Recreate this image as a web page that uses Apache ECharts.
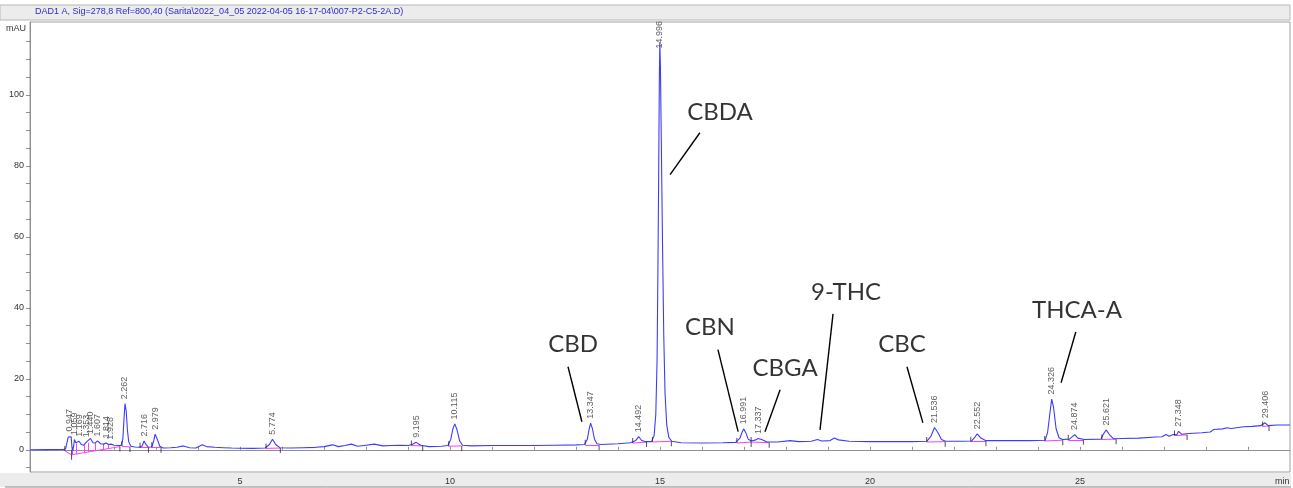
<!DOCTYPE html>
<html>
<head>
<meta charset="utf-8">
<script src="https://cdn.jsdelivr.net/npm/echarts@6/dist/echarts.min.js"></script>
<style>
  html, body { margin: 0; padding: 0; background: #ffffff; }
  #chart { width: 1293px; height: 488px; }
</style>
</head>
<body>
<div id="chart"></div>
<script>
// Chromatogram trace (DAD1 A, 278 nm), retention time in minutes vs absorbance in mAU.
// Peak apexes live in peakRT / peakHeight and are merged into the trace below.
const traceTime = [
  0.00, 0.40, 0.80, 0.85, 0.88, 0.91, 0.98, 1.00, 1.02, 1.04, 1.09, 1.12, 1.22, 1.28, 1.39,
  1.50, 1.55, 1.68, 1.75, 1.87, 2.00, 2.10, 2.17, 2.21, 2.24, 2.29, 2.32, 2.35, 2.40, 2.50,
  2.60, 2.67, 2.76, 2.82, 2.90, 2.95, 3.03, 3.09, 3.17, 3.35, 3.50, 3.65, 3.80, 3.95, 4.10,
  4.20, 4.40, 4.60, 4.80, 5.00, 5.30, 5.60, 5.70, 5.85, 5.95, 6.20, 6.50, 6.80, 7.00, 7.20,
  7.35, 7.50, 7.65, 7.80, 8.00, 8.20, 8.40, 8.60, 8.80, 9.00, 9.10, 9.30, 9.50, 9.80, 9.95,
  10.02, 10.07, 10.17, 10.23, 10.30, 10.50, 11.00, 11.50, 12.00, 12.50, 13.00, 13.20, 13.27, 13.31, 13.39,
  13.44, 13.50, 13.60, 14.00, 14.30, 14.42, 14.56, 14.65, 14.80, 14.86, 14.90, 14.93, 14.95, 14.97, 14.985,
  15.01, 15.03, 15.06, 15.09, 15.12, 15.16, 15.21, 15.28, 15.50, 16.00, 16.50, 16.80, 16.90, 16.95, 17.04,
  17.10, 17.18, 17.28, 17.42, 17.55, 17.80, 18.10, 18.30, 18.60, 18.75, 18.85, 19.05, 19.15, 19.25, 19.50,
  20.00, 20.50, 21.00, 21.35, 21.45, 21.62, 21.70, 21.80, 22.20, 22.42, 22.50, 22.64, 22.75, 23.20, 23.80,
  24.17, 24.23, 24.28, 24.37, 24.43, 24.50, 24.58, 24.75, 24.95, 25.10, 25.50, 25.56, 25.70, 25.80, 26.00,
  26.40, 26.80, 26.95, 27.05, 27.12, 27.22, 27.30, 27.42, 27.60, 27.90, 28.10, 28.18, 28.40, 28.50, 28.60,
  28.90, 29.10, 29.30, 29.48, 29.70, 30.00
];
const traceMAU = [
  0.0, 0.05, 0.1, 0.4, 2.0, 3.6, 3.7, 0.5, -0.3, 1.2, 2.0, 1.6, 1.5, 1.3, 2.0,
  2.0, 1.9, 1.7, 1.6, 1.5, 1.3, 1.2, 1.2, 3.0, 9.0, 11.0, 5.5, 2.3, 1.0, 0.8,
  0.7, 1.1, 1.5, 0.7, 0.8, 2.7, 3.0, 1.0, 0.5, 0.6, 0.7, 1.1, 0.6, 0.5, 1.4,
  0.9, 0.7, 0.6, 0.5, 0.45, 0.4, 0.5, 1.5, 1.5, 0.6, 0.5, 0.6, 0.7, 0.9, 1.4,
  0.9, 1.2, 1.6, 1.0, 1.3, 1.6, 1.1, 1.2, 1.3, 1.2, 1.5, 1.3, 0.9, 1.0, 1.2,
  3.0, 6.0, 5.5, 2.5, 1.3, 1.1, 1.2, 1.2, 1.2, 1.3, 1.4, 1.5, 3.0, 5.6, 6.0,
  3.0, 1.7, 1.5, 1.7, 2.0, 2.6, 2.7, 2.3, 2.3, 4.0, 10.0, 25.0, 50.0, 80.0, 105.0,
  108.0, 88.0, 58.0, 32.0, 16.0, 7.0, 3.5, 2.4, 2.0, 1.9, 2.0, 2.1, 3.2, 4.8, 4.9,
  3.0, 2.5, 2.8, 2.9, 2.2, 2.2, 2.6, 2.3, 2.4, 2.9, 2.5, 2.6, 3.3, 2.8, 2.4,
  2.3, 2.3, 2.3, 2.4, 3.8, 4.8, 2.9, 2.4, 2.4, 2.5, 3.6, 3.3, 2.6, 2.6, 2.6,
  2.7, 5.0, 10.0, 12.0, 6.0, 3.4, 2.9, 3.0, 3.3, 2.9, 3.0, 4.5, 4.3, 3.1, 3.2,
  3.3, 3.6, 3.7, 4.3, 3.8, 4.3, 4.2, 4.4, 4.6, 4.8, 5.0, 5.7, 5.9, 6.2, 6.0,
  6.5, 6.6, 6.8, 6.8, 7.0, 7.0
];

// Integrated peaks: retention time (min) and apex height (mAU)
const peakRT = [
  0.947, 1.059, 1.169, 1.353, 1.440, 1.607, 1.814, 1.928, 2.262, 2.716, 2.979, 5.774, 9.195,
  10.115, 13.347, 14.492, 14.996, 16.991, 17.337, 21.536, 22.552, 24.326, 24.874, 25.621,
  27.348, 29.406
];
const peakHeight = [
  3.9, 2.9, 2.4, 2.3, 3.2, 2.5, 1.9, 1.6, 13.0, 2.5, 4.4, 3.0, 2.1,
  7.3, 7.5, 3.7, 114.6, 5.9, 3.2, 6.3, 4.5, 14.3, 4.3, 5.6,
  5.2, 7.6
];

// Integration baselines: start / end time and level (mAU)
const baseStart    = [0.83, 0.99, 2.19, 2.62, 2.90, 5.62, 9.08, 9.97, 13.22, 14.35, 14.82, 16.83, 17.17, 21.35, 22.40, 24.16, 24.72, 25.52, 27.25, 29.35];
const baseStartMAU = [-0.3, -1.4, 1.0, 0.6, 0.7, 0.4, 1.2, 1.0, 1.4, 1.9, 2.2, 1.9, 2.2, 2.2, 2.3, 2.5, 2.8, 2.9, 4.0, 6.6];
const baseEnd      = [0.99, 2.14, 2.38, 2.82, 3.12, 5.96, 9.35, 10.28, 13.55, 14.68, 15.27, 17.17, 17.60, 21.79, 22.76, 24.59, 25.08, 25.86, 27.55, 29.50];
const baseEndMAU   = [-1.4, 0.9, 0.8, 0.6, 0.6, 0.5, 1.1, 1.1, 1.3, 2.2, 2.4, 2.2, 2.0, 2.3, 2.4, 2.7, 2.8, 3.0, 4.2, 6.7];

// Drop lines separating the unresolved early peaks
const dropTime = [1.00, 1.10, 1.28, 1.39, 1.55, 1.75, 1.87];
const dropLow  = [-1.4, -1.2, -0.8, -0.6, -0.3, 0.2, 0.4];
const dropHigh = [0.5, 1.8, 1.3, 2.0, 1.9, 1.6, 1.5];

// Compound names with text anchor and leader line (time, mAU)
const compoundName = ['CBD', 'CBDA', 'CBN', 'CBGA', '9-THC', 'CBC', 'THCA-A'];
const compoundTextAt = [[12.93, 29.6], [16.43, 95.2], [16.19, 34.4], [17.98, 23.1], [19.43, 44.5], [20.76, 29.6], [24.93, 39.4]];
const compoundLineFrom = [[12.81, 23.4], [15.95, 89.3], [16.38, 28.2], [17.86, 16.9], [19.12, 38.3], [20.88, 23.4], [24.90, 33.2]];
const compoundLineTo = [[13.14, 7.9], [15.24, 77.5], [16.86, 5.1], [17.50, 5.1], [18.81, 5.6], [21.26, 7.6], [24.55, 18.9]];

// Axis ticks and labels
const yLabelValues = [0, 20, 40, 60, 80, 100];
const yTickValues = [-5, 0, 5, 10, 15, 20, 25, 30, 35, 40, 45, 50, 55, 60, 65, 70, 75, 80, 85, 90, 95, 100, 105, 110, 115];
const xLabelValues = [5, 10, 15, 20, 25];
const xTickValues = [1, 2, 3, 4, 5, 6, 7, 8, 9, 10, 11, 12, 13, 14, 15, 16, 17, 18, 19, 20, 21, 22, 23, 24, 25, 26, 27, 28, 29];

const headerText = 'DAD1 A, Sig=278,8 Ref=800,40 (Sarita\\2022_04_05 2022-04-05 16-17-04\\007-P2-C5-2A.D)';

const trace = traceTime.map((t, i) => [t, traceMAU[i]])
  .concat(peakRT.map((t, i) => [t, peakHeight[i]]))
  .sort((a, b) => a[0] - b[0]);

const baselineSegments = baseStart.map((t, i) => ({ coords: [[t, baseStartMAU[i]], [baseEnd[i], baseEndMAU[i]]] }))
  .concat(dropTime.map((t, i) => ({ coords: [[t, dropLow[i]], [t, dropHigh[i]]] })));

const mainPeak = peakHeight.indexOf(Math.max(...peakHeight));

const chart = echarts.init(document.getElementById('chart'));
const smallFont = { fontFamily: 'Liberation Sans, Arial, sans-serif', fontSize: 9, color: '#333' };
const hidden = 'rgba(0,0,0,0)';

chart.setOption({
  animation: false,
  backgroundColor: '#ffffff',
  grid: {
    left: 30, right: 3, top: 22, bottom: 16,
    show: true, backgroundColor: '#ffffff', borderColor: '#a0a0a0', borderWidth: 1
  },
  xAxis: {
    type: 'value', min: 0, max: 30,
    axisLine: { show: true, lineStyle: { color: '#909090' } },
    axisTick: { show: true, inside: true, length: 3, customValues: xTickValues, lineStyle: { color: '#909090' } },
    axisLabel: { customValues: xLabelValues, margin: 5, ...smallFont },
    splitLine: { show: false }
  },
  yAxis: {
    type: 'value', min: -6.25, max: 120.5,
    axisLine: { show: true, lineStyle: { color: '#909090' } },
    axisTick: { show: true, length: 4, customValues: yTickValues, lineStyle: { color: '#909090' } },
    axisLabel: { customValues: yLabelValues, margin: 6, ...smallFont },
    splitLine: { show: false }
  },
  graphic: [
    { type: 'rect', z: 10, shape: { x: 0, y: 0, width: 1293, height: 21 }, style: { fill: '#ffffff' } },
    { type: 'rect', z: 11, shape: { x: 0, y: 5, width: 1290, height: 15 }, style: { fill: '#ececec', stroke: '#b8b8b8', lineWidth: 1 } },
    { type: 'text', z: 12, x: 35, y: 7, style: { text: headerText, fill: '#2b2bd0', font: '9px "Liberation Sans", Arial, sans-serif' } },
    { type: 'text', z: 12, x: 6, y: 24, style: { text: 'mAU', fill: '#333', font: '9px "Liberation Sans", Arial, sans-serif' } },
    { type: 'rect', z: 0, shape: { x: 0, y: 473, width: 1291, height: 14 }, style: { fill: '#ececec' } },
    { type: 'line', z: 1, shape: { x1: 5, y1: 487, x2: 1291, y2: 487 }, style: { stroke: '#8a8a8a', lineWidth: 1 } },
    { type: 'text', z: 12, x: 1275, y: 477, style: { text: 'min', fill: '#333', font: '9px "Liberation Sans", Arial, sans-serif' } }
  ],
  series: [
    {
      name: 'baseline', type: 'lines', coordinateSystem: 'cartesian2d', z: 2, silent: true,
      lineStyle: { color: '#ff3cff', width: 1, opacity: 1 },
      data: baselineSegments
    },
    {
      name: 'DAD1 A', type: 'line', data: trace, showSymbol: false, z: 3,
      lineStyle: { color: '#3c3cff', width: 1.1 }
    },
    {
      name: 'peak start', type: 'scatter', z: 4, symbol: 'rect', symbolSize: [1, 5], symbolOffset: [0, -2.5],
      itemStyle: { color: '#222' }, data: baseStart.map((t, i) => [t, baseStartMAU[i]])
    },
    {
      name: 'peak end', type: 'scatter', z: 4, symbol: 'rect', symbolSize: [1, 5], symbolOffset: [0, 2.5],
      itemStyle: { color: '#222' }, data: baseEnd.map((t, i) => [t, baseEndMAU[i]])
    },
    {
      name: 'retention times', type: 'scatter', z: 5, symbolSize: 1, itemStyle: { color: hidden },
      data: peakRT.map((t, i) => {
        const item = { value: [t, peakHeight[i]], name: t.toFixed(3) };
        if (i === mainPeak) item.label = { distance: -6 };
        return item;
      }),
      label: {
        show: true, position: 'top', distance: 4, rotate: 90, align: 'left', verticalAlign: 'middle',
        formatter: p => p.name, ...smallFont
      },
      labelLayout: { hideOverlap: false }
    },
    {
      name: 'compound leaders', type: 'lines', coordinateSystem: 'cartesian2d', z: 6, silent: true,
      lineStyle: { color: '#000', width: 1.4, opacity: 1 },
      data: compoundLineFrom.map((p, i) => ({ coords: [p, compoundLineTo[i]] }))
    },
    {
      name: 'compounds', type: 'scatter', z: 7, symbolSize: 1, itemStyle: { color: hidden },
      data: compoundTextAt.map((p, i) => ({ value: p, name: compoundName[i] })),
      label: {
        show: true, position: 'inside', formatter: p => p.name,
        fontFamily: 'Lato, "Open Sans", sans-serif', fontSize: 24, color: '#000'
      }
    }
  ]
});
</script>
</body>
</html>
